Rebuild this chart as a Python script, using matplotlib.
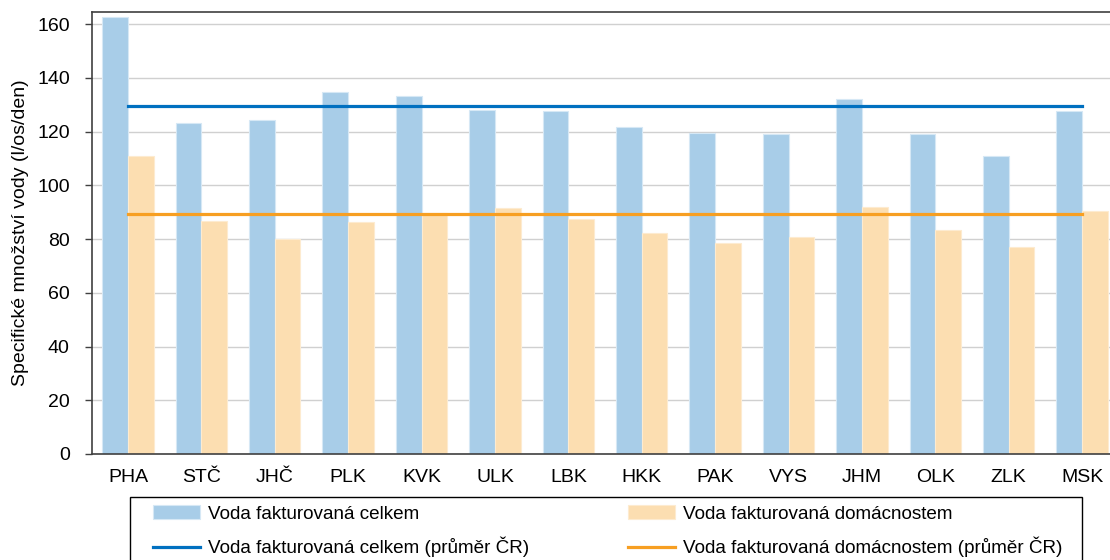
import matplotlib
matplotlib.use("Agg")
import matplotlib.pyplot as plt
from matplotlib.patches import Rectangle
import numpy as np

plt.rcParams['font.family'] = ['Liberation Sans', 'DejaVu Sans']

kraje = ['PHA', 'STČ', 'JHČ', 'PLK', 'KVK', 'ULK', 'LBK', 'HKK', 'PAK', 'VYS', 'JHM', 'OLK', 'ZLK', 'MSK']
celkem = [162.5, 123.3, 124.3, 134.6, 133.3, 128.0, 127.7, 121.6, 119.3, 119.0, 132.1, 119.0, 111.0, 127.7]
domacnosti = [111.0, 86.8, 79.9, 86.5, 89.6, 91.7, 87.4, 82.2, 78.6, 80.8, 91.9, 83.4, 76.9, 90.3]
prumer_celkem = 129.7
prumer_domacnosti = 89.3

c_blue = '#a8cde8'
c_orange = '#fcdeb1'
c_blue_line = '#0070c0'
c_orange_line = '#f79f22'

fig = plt.figure(figsize=(11.1, 5.6), dpi=100)
ax = fig.add_axes([92/1110, 106/560, 1018/1110, 442/560])

x = np.arange(len(kraje))
w = 0.35
b1 = ax.bar(x - w/2, celkem, w, color=c_blue, edgecolor='#d6e8f5', linewidth=0.8, zorder=2,
            label='Voda fakturovaná celkem')
b2 = ax.bar(x + w/2, domacnosti, w, color=c_orange, edgecolor='#fdebd0', linewidth=0.8, zorder=2,
            label='Voda fakturovaná domácnostem')
l1, = ax.plot([x[0], x[-1]], [prumer_celkem]*2, color=c_blue_line, lw=2.3, zorder=3,
              label='Voda fakturovaná celkem (průměr ČR)')
l2, = ax.plot([x[0], x[-1]], [prumer_domacnosti]*2, color=c_orange_line, lw=2.3, zorder=3,
              label='Voda fakturovaná domácnostem (průměr ČR)')

ax.set_xlim(-0.49, 13.38)
ax.set_ylim(0, 164.5)
ax.set_yticks(range(0, 161, 20))
ax.set_xticks(x)
ax.set_xticklabels(kraje)
ax.tick_params(axis='x', length=0, pad=11, labelsize=14)
ax.tick_params(axis='y', length=5, width=1, color='#404040', labelsize=14, pad=11)
ax.yaxis.grid(True, color='#d0d0d0', lw=1, zorder=0)
ax.set_axisbelow(True)
for s in ['left', 'bottom', 'top']:
    ax.spines[s].set_color('#404040')
    ax.spines[s].set_linewidth(1.2)
ax.spines['right'].set_visible(False)
ax.set_ylabel('Specifické množství vody (l/os/den)', fontsize=14)
ax.yaxis.set_label_coords(-0.062, 0.5)

# legend without own frame, frame drawn separately
fig.legend([b1, l1, b2, l2],
           [b1.get_label(), l1.get_label(), b2.get_label(), l2.get_label()],
           ncol=2, loc='upper left',
           bbox_to_anchor=(153/1110, 1 - 505/560),
           fontsize=13.6, frameon=False,
           handlelength=2.5, handleheight=0.8, handletextpad=0.42, labelspacing=0.75,
           columnspacing=5.2, borderpad=0, borderaxespad=0)
fig.add_artist(Rectangle((130/1110, -0.05), 952/1110, 0.05 + (560-497)/560,
                         transform=fig.transFigure, fill=False, ec='black', lw=1.0))

fig.savefig('out.png', dpi=100)
